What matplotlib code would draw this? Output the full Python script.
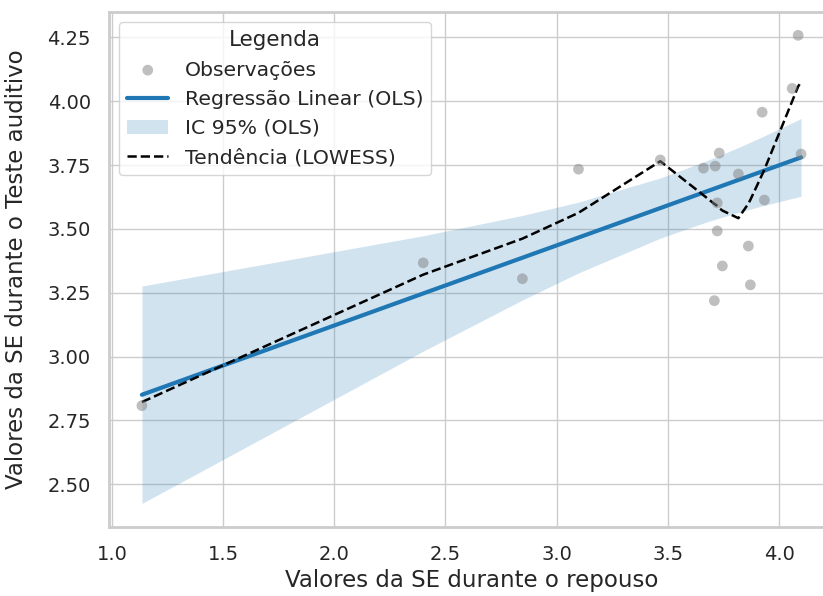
import numpy as np
import matplotlib
matplotlib.use("Agg")
import matplotlib.pyplot as plt
import seaborn as sns

# ------------------------------------------------------------------ #
# Dados
# ------------------------------------------------------------------ #
se_repouso = np.array([1.135, 2.400, 2.846, 3.098, 3.466, 3.660, 3.709, 3.713,
                       3.722, 3.722, 3.731, 3.745, 3.817, 3.862, 3.871, 3.924,
                       3.934, 4.059, 4.086, 4.099])
se_auditivo = np.array([2.808, 3.367, 3.305, 3.734, 3.770, 3.738, 3.219, 3.746,
                        3.602, 3.492, 3.797, 3.355, 3.715, 3.433, 3.281, 3.957,
                        3.613, 4.050, 4.258, 3.793])
# curva LOWESS nos mesmos x (ordenados)
lowess_y = np.array([2.822, 3.321, 3.462, 3.563, 3.765, 3.632, 3.598, 3.596,
                     3.590, 3.590, 3.582, 3.572, 3.542, 3.599, 3.614, 3.713,
                     3.732, 4.000, 4.058, 4.075])

T_975 = 2.101  # t(0.975, df=18)

# ------------------------------------------------------------------ #
# OLS + IC 95%
# ------------------------------------------------------------------ #
order = np.argsort(se_repouso, kind="stable")
xs = se_repouso[order]
n = len(xs)
b1, b0 = np.polyfit(se_repouso, se_auditivo, 1)
pred = b0 + b1 * xs
resid = se_auditivo - (b0 + b1 * se_repouso)
s = np.sqrt(np.sum(resid ** 2) / (n - 2))
xm = se_repouso.mean()
sxx = np.sum((se_repouso - xm) ** 2)
se_fit = s * np.sqrt(1 / n + (xs - xm) ** 2 / sxx)
lo = pred - T_975 * se_fit
hi = pred + T_975 * se_fit

sns.set_theme(style="whitegrid")
plt.rcParams["font.family"] = ["DejaVu Sans"]

fig, ax = plt.subplots(figsize=(8.23, 5.96), dpi=100)
# a imagem original está recortada à direita (sem a espinha direita)
fig.subplots_adjust(left=0.1324, right=1.0134, top=0.980, bottom=0.116)

ax.scatter(se_repouso, se_auditivo, s=60, color="gray", alpha=0.5,
           edgecolor="none", label="Observações", zorder=3)
ax.plot(xs, pred, color="#1f77b4", linewidth=3, label="Regressão Linear (OLS)")
ax.fill_between(xs, lo, hi, color="#1f77b4", alpha=0.2, linewidth=0,
                label="IC 95% (OLS)")
ax.plot(xs, lowess_y, color="black", linestyle="--", linewidth=1.8,
        label="Tendência (LOWESS)")

ax.set_xlabel("Valores da SE durante o repouso", fontsize=16.5, labelpad=4)
ax.set_ylabel("Valores da SE durante o Teste auditivo", fontsize=16.5, labelpad=14)
ax.tick_params(labelsize=14, pad=7)
ax.set_yticks([2.50, 2.75, 3.00, 3.25, 3.50, 3.75, 4.00, 4.25])
for sp in ax.spines.values():
    sp.set_linewidth(2)

leg = ax.legend(title="Legenda", loc="upper left", fontsize=14.7,
                title_fontsize=15.5, frameon=True)

plt.savefig("out.png", dpi=100)
